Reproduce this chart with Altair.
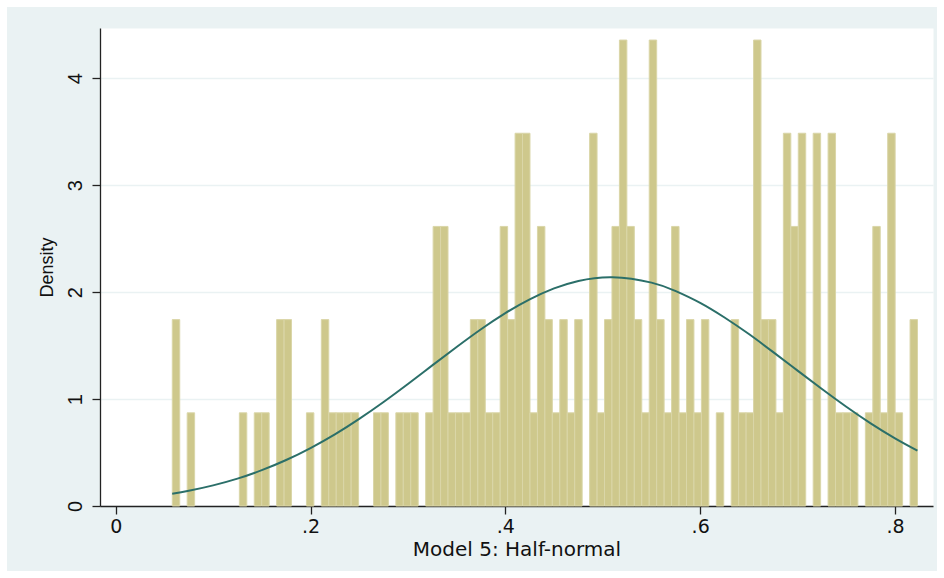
import altair as alt
import pandas as pd

# Histogram: counts per bin (100 bins)
counts = [
    2, 0, 1, 0, 0, 0, 0, 0, 0, 1,
    0, 1, 1, 0, 2, 2, 0, 0, 1, 0,
    2, 1, 1, 1, 1, 0, 0, 1, 1, 0,
    1, 1, 1, 0, 1, 3, 3, 1, 1, 1,
    2, 2, 1, 1, 3, 2, 4, 4, 1, 3,
    2, 1, 2, 1, 2, 0, 4, 1, 2, 3,
    5, 3, 2, 1, 5, 2, 1, 3, 1, 2,
    1, 2, 0, 1, 0, 2, 1, 1, 5, 2,
    2, 1, 4, 3, 4, 0, 4, 0, 4, 1,
    1, 1, 0, 1, 3, 1, 4, 1, 0, 2,
]
BIN_START = 0.0581
BIN_WIDTH = 0.00765
N_OBS = 150

# Normal density overlay
curve_x = [0.058, 0.075, 0.10, 0.125, 0.15, 0.175, 0.20, 0.225, 0.25, 0.275,
           0.30, 0.325, 0.35, 0.375, 0.40, 0.425, 0.45, 0.475, 0.51, 0.55,
           0.575, 0.60, 0.625, 0.65, 0.675, 0.70, 0.725, 0.75, 0.775,
           0.80, 0.823]
curve_y = [0.114, 0.142, 0.193, 0.256, 0.335, 0.430, 0.542, 0.670, 0.815, 0.973,
           1.141, 1.315, 1.487, 1.653, 1.804, 1.933, 2.035, 2.105, 2.140, 2.089,
           2.010, 1.900, 1.763, 1.608, 1.439, 1.266, 1.094, 0.928, 0.773,
           0.633, 0.518]

x_ticks = [0, 0.2, 0.4, 0.6, 0.8]
x_tick_labels = ["0", ".2", ".4", ".6", ".8"]
y_ticks = [0, 1, 2, 3, 4]

rows = []
for i, c in enumerate(counts):
    if c > 0:
        lo = BIN_START + i * BIN_WIDTH
        rows.append({"lo": lo, "hi": lo + BIN_WIDTH, "density": c / (N_OBS * BIN_WIDTH)})
bars_df = pd.DataFrame(rows)
curve_df = pd.DataFrame({"x": curve_x, "y": curve_y})

label_map = "{" + ",".join(f"'{v}':'{l}'" for v, l in zip(x_ticks, x_tick_labels)) + "}"

FONT = "Liberation Sans"
WIDE = "DejaVu Sans"
xscale = alt.Scale(domain=[-0.0161, 0.839], nice=False, zero=False)
yscale = alt.Scale(domain=[0, 4.47], nice=False)

x_axis = alt.Axis(values=x_ticks, labelExpr=f"{label_map}[toString(datum.value)]",
                  grid=False, tickSize=8, labelPadding=3, title="Model 5: Half-normal",
                  titlePadding=3, labelFont=WIDE, labelFontSize=19,
                  titleFont=WIDE, titleFontSize=20)
y_axis = alt.Axis(values=y_ticks, format="d", grid=True, tickSize=8, labelAngle=270,
                  labelAlign="center", labelBaseline="bottom", labelPadding=7,
                  labelFont=FONT, labelFontSize=20,
                  title="Density", titlePadding=9, titleFont=FONT, titleFontSize=18)

bars = alt.Chart(bars_df).mark_bar(
    fill="#CEC88C", stroke="#DAD6A8", strokeWidth=1
).encode(
    x=alt.X("lo:Q", scale=xscale, axis=x_axis),
    x2="hi:Q",
    y=alt.Y("density:Q", scale=yscale, axis=y_axis),
    y2=alt.datum(0),
)

line = alt.Chart(curve_df).mark_line(
    color="#2B6F69", strokeWidth=2, interpolate="natural"
).encode(
    x=alt.X("x:Q", scale=xscale),
    y=alt.Y("y:Q", scale=yscale),
)

frame = alt.Chart(pd.DataFrame({"a": [0]})).mark_rect(
    fillOpacity=0, stroke="white", strokeWidth=14
).encode(
    x=alt.value(-100), x2=alt.value(844), y=alt.value(-28), y2=alt.value(550)
)

chart = alt.layer(bars, line, frame).properties(
    width=833, height=478,
    autosize=alt.AutoSizeParams(type="none"),
    padding={"left": 100, "top": 28, "right": 11, "bottom": 72},
    background="#EAF2F3",
).configure_view(
    fill="white", stroke="transparent"
).configure_axis(
    domainColor="#222222", domainWidth=1.3, tickColor="#222222", tickWidth=1.3,
    gridColor="#EAF2F3", gridWidth=1.5,
    labelColor="#111111", titleFontWeight="normal", titleColor="#111111",
)

chart.save("out.html", embed_options={"renderer": "svg", "actions": False})
